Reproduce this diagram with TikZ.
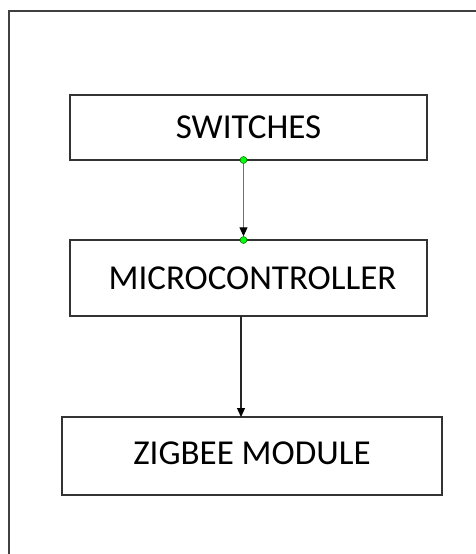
\documentclass[tikz,border=0pt]{standalone}
\usepackage{fontspec}
\setmainfont{Carlito}
\usetikzlibrary{arrows.meta}
\begin{document}
\begin{tikzpicture}[
        x=1pt, y=-1pt,
        font=\fontsize{35}{42}\selectfont, >={Triangle[width=8pt,length=9pt,color=black]},
        blk/.style={draw=black!80, line width=1.3pt, inner sep=0pt, text=black},
        dot/.style={circle, fill=green, draw=green!40!black, line width=0.5pt, inner sep=0pt, minimum size=7pt}
    ]
        \useasboundingbox (0,0) rectangle (476,554);
        \draw[black!75, line width=2pt] (476,11) -- (9,11) -- (9,554);
        \node[blk, minimum width=357pt, minimum height=65pt] (sw) at (248.5,127.5) {SWITCHES};
        \node[blk, minimum width=357pt, minimum height=76pt] (mc) at (248.5,278) {\hspace{8pt}MICROCONTROLLER};
        \node[blk, minimum width=380pt, minimum height=78pt] (zb) at (252,456) {\raisebox{6pt}{ZIGBEE MODULE}};
        \coordinate (mcout) at (241,316);
        \coordinate (zbin) at (241,417);
        \node[dot] (swout) at (243.5,160) {};
        \node[dot] (mcin) at (243.5,240) {};
        \draw[->, black!55, line width=1.2pt] (swout) -- (mcin);
        \draw[->, black!85, line width=1.2pt] (mcout) -- (zbin);
    \end{tikzpicture}
\end{document}
